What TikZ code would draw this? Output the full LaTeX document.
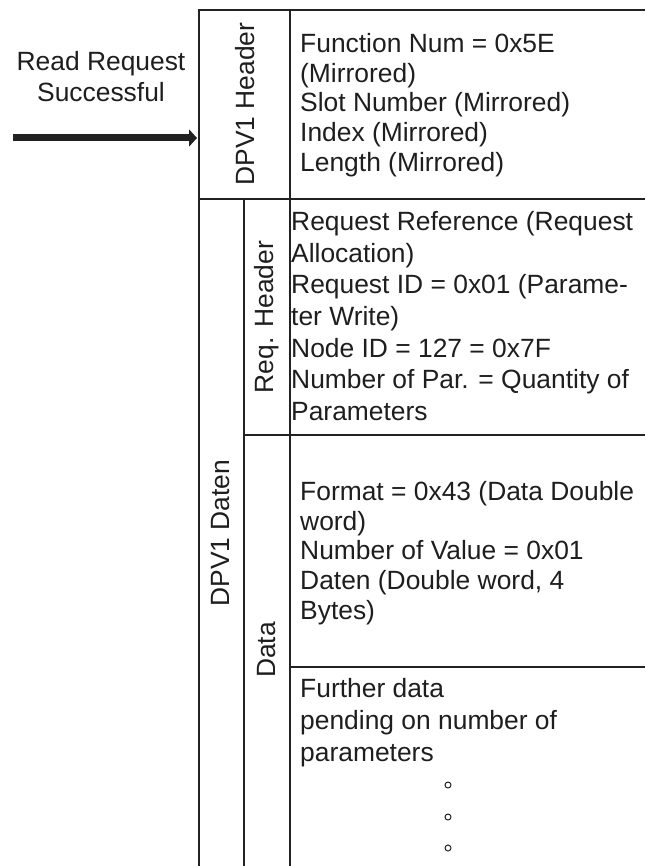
\documentclass[tikz,border=0pt]{standalone}
\usepackage{fontspec}
\setmainfont{Liberation Sans}
\usetikzlibrary{arrows.meta,positioning}

\definecolor{framegray}{RGB}{34,34,34}
\definecolor{textgray}{RGB}{30,30,30}

\tikzset{
 frameline/.style={draw=framegray, line width=2.8pt},
 fieldtext/.style={align=left, inner sep=0pt, text=textgray},
 sidelabel/.style={rotate=90, inner sep=0pt, text=textgray, font=\fontsize{26.4}{30}\selectfont},
}

\begin{document}
\begin{tikzpicture}[x=1pt, y=-1pt]
 \useasboundingbox (0,0) rectangle (645,866);

 % frame of the telegram
 \draw[frameline] (645,10) -- (199,10) -- (199,866);
 \draw[frameline] (290,10) -- (290,866);
 \draw[frameline] (199,199) -- (645,199);
 \draw[frameline] (244,199) -- (244,866);
 \draw[frameline] (244,435) -- (645,435);
 \draw[frameline] (290,667) -- (645,667);

 % vertical labels
 \node[sidelabel] (hdrlabel) at (245,104) {DPV1 Header};
 \node[sidelabel] (datenlabel) at (221,533) {DPV1 Daten};
 \node[sidelabel] (reqlabel) at (267,317) {Req. Header};
 \node[sidelabel] (datalabel) at (267,650) {Data};

 % field contents
 \node[fieldtext, anchor=west, font=\fontsize{26.4}{29.6}\selectfont] (hdrtext) at (300,105)
  {Function Num = 0x5E\\(Mirrored)\\Slot Number (Mirrored)\\Index (Mirrored)\\Length (Mirrored)};
 \node[fieldtext, anchor=west, font=\fontsize{26.4}{31.7}\selectfont] (reqtext) at (291,316)
  {Request Reference (Request\\Allocation)\\Request ID = 0x01 (Parame-\\ter Write)\\Node ID = 127 = 0x7F\\Number of Par. = Quantity of\\Parameters};
 \node[fieldtext, anchor=west, font=\fontsize{26.4}{29.8}\selectfont] (datatext) at (300,553)
  {Format = 0x43 (Data Double\\word)\\Number of Value = 0x01\\Daten (Double word, 4\\Bytes)};
 \node[fieldtext, anchor=north west, font=\fontsize{26.4}{32}\selectfont] (moretext) at (300,678)
  {Further data\\pending on number of\\parameters};

 \foreach \y in {785,817,848}
  \draw[framegray, line width=1pt] (448,\y) circle (3);

 % incoming response
 \node[text=textgray, align=center, inner sep=0pt, font=\fontsize{26.4}{31}\selectfont] (readlabel) at (101,77)
  {Read Request\\Successful};
 \coordinate (arrowstart) at (13,138);
 \coordinate (hdrleft) at (197,138);
 \draw[framegray, line width=7pt, -{Triangle[length=8pt, width=17pt]}] (arrowstart) -- (hdrleft);
\end{tikzpicture}
\end{document}
